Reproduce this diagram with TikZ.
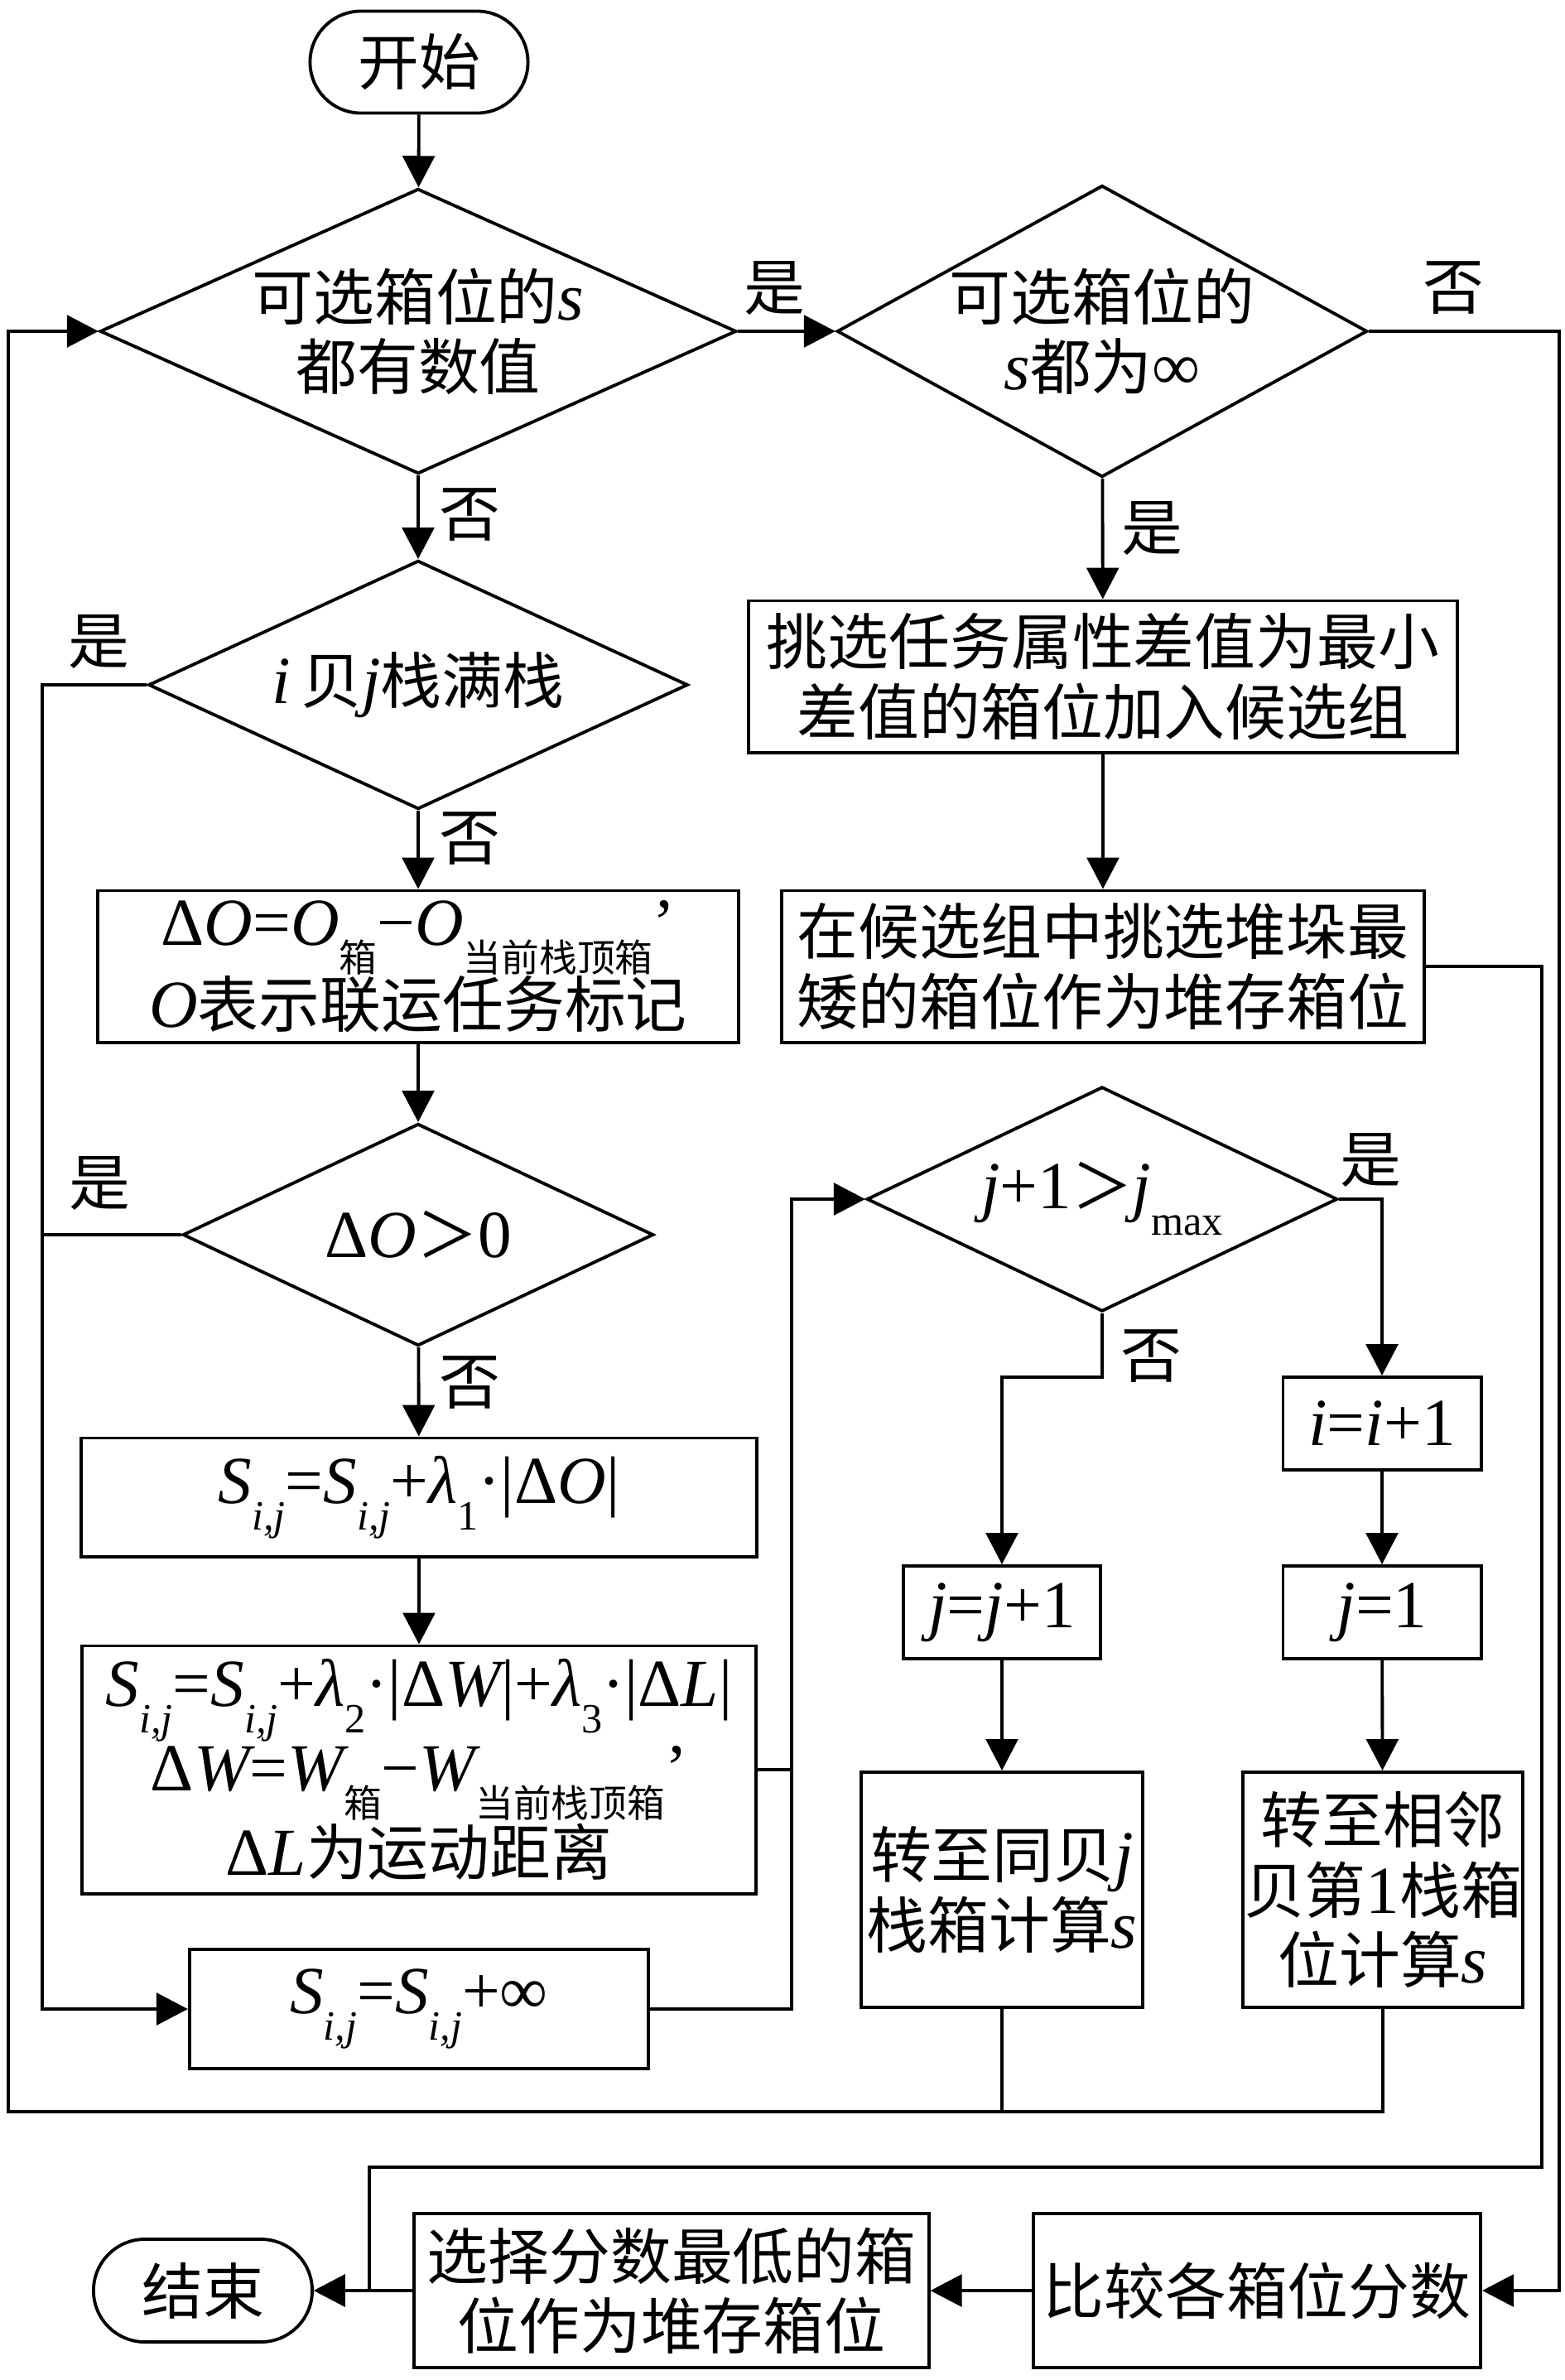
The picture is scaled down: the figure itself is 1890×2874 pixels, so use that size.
\documentclass[tikz,border=0pt]{standalone}
\usepackage{fontspec}
\setmainfont{Noto Sans CJK SC}
\newfontfamily\tnr[Scale=1.1]{Liberation Serif}
\usepackage{tikz}
\usetikzlibrary{shapes.geometric,shapes.misc,arrows.meta}
\newcommand{\itv}[1]{{\tnr\itshape #1}}
\newcommand{\tn}[1]{{\tnr #1}}
\newcommand{\sub}[1]{\raisebox{-0.8ex}{\fontsize{13}{13}\selectfont #1}}

\begin{document}
\begin{tikzpicture}[x=0.01cm,y=-0.01cm,line width=1.1pt,
	>={Triangle[length=10.8pt,width=11pt]},
	every node/.style={font=\fontsize{21}{24}\selectfont,align=center,inner sep=0pt},
	term/.style={draw,rounded rectangle,minimum width=2.63cm,minimum height=1.23cm},
	decision/.style={draw,diamond,aspect=2,inner sep=-12pt},
	proc/.style={draw,rectangle}]
	\useasboundingbox (0,0) rectangle (1890,2874);
	% left column
	\node[term] (start) at (506,75) {开始};
	\node[decision,minimum width=7.68cm,minimum height=3.44cm] (full) at (505,400) {可选箱位的\itv{s}\\都有数值};
	\node[decision,minimum width=6.51cm,minimum height=3cm] (stack) at (505,827) {\itv{i}\,贝\itv{j}栈满栈};
	\node[proc,minimum width=7.73cm,minimum height=1.83cm,font=\fontsize{21}{28}\selectfont] (dO) at (505,1167)
		{\tn{Δ}\itv{O}\tn{=}\itv{O}\sub{箱}\tn{−}\itv{O}\sub{当前栈顶箱}\tn{’}\\\itv{O}表示联运任务标记};
	\node[decision,minimum width=5.68cm,minimum height=2.68cm] (pos) at (505,1491) {\tn{Δ}\itv{O}＞\tn{0}};
	\node[proc,minimum width=8.15cm,minimum height=1.43cm] (s1) at (506,1808)
		{\itv{S}\sub{\itv{i,j}}\tn{=}\itv{S}\sub{\itv{i,j}}\tn{+}\itv{λ}\sub{\tn{1}}\tn{·|Δ}\itv{O}\tn{|}};
	\node[proc,minimum width=8.13cm,minimum height=2.99cm,font=\fontsize{21}{29}\selectfont] (s2) at (506,2137)
		{\itv{S}\sub{\itv{i,j}}\tn{=}\itv{S}\sub{\itv{i,j}}\tn{+}\itv{λ}\sub{\tn{2}}\tn{·|Δ}\itv{W}\tn{|+}\itv{λ}\sub{\tn{3}}\tn{·|Δ}\itv{L}\tn{|}\\
		\tn{Δ}\itv{W}\tn{=}\itv{W}\sub{箱}\tn{−}\itv{W}\sub{当前栈顶箱}\tn{’}\\
		\tn{Δ}\itv{L}为运动距离};
	\node[proc,minimum width=5.54cm,minimum height=1.44cm] (sinf) at (506,2426)
		{\itv{S}\sub{\itv{i,j}}\tn{=}\itv{S}\sub{\itv{i,j}}\tn{+∞}};
	% right column
	\node[decision,minimum width=6.4cm,minimum height=3.52cm] (inf) at (1331,400) {可选箱位的\\\itv{s}都为\tn{∞}};
	\node[proc,minimum width=8.55cm,minimum height=1.83cm] (pick) at (1332,817) {挑选任务属性差值为最小\\差值的箱位加入候选组};
	\node[proc,minimum width=7.75cm,minimum height=1.83cm] (cand) at (1332,1167) {在候选组中挑选堆垛最\\矮的箱位作为堆存箱位};
	\node[decision,minimum width=5.68cm,minimum height=2.71cm] (jmax) at (1331,1448) {\itv{j}\tn{+1}＞\itv{j}\sub{\tn{max}}};
	\node[proc,minimum width=2.39cm,minimum height=1.12cm] (inci) at (1669,1719) {\itv{i}\tn{=}\itv{i}\tn{+1}};
	\node[proc,minimum width=2.39cm,minimum height=1.12cm] (resj) at (1669,1947) {\itv{j}\tn{=1}};
	\node[proc,minimum width=2.38cm,minimum height=1.12cm] (incj) at (1210,1947) {\itv{j}\tn{=}\itv{j}\tn{+1}};
	\node[proc,minimum width=3.4cm,minimum height=2.84cm] (same) at (1210,2282) {转至同贝\itv{j}\\栈箱计算\itv{s}};
	\node[proc,minimum width=3.37cm,minimum height=2.84cm] (next) at (1670,2282) {转至相邻\\贝第\tn{1}栈箱\\位计算\itv{s}};
	% bottom row
	\node[term,minimum width=2.64cm,minimum height=1.24cm] (end) at (245,2766) {结束};
	\node[proc,minimum width=6.21cm,minimum height=1.86cm] (sel) at (811,2766) {选择分数最低的箱\\位作为堆存箱位};
	\node[proc,minimum width=5.4cm,minimum height=1.86cm] (cmp) at (1518,2766) {比较各箱位分数};
	% branch labels
	\node (yes1) at (935,348) {是};
	\node (no1) at (567,622) {否};
	\node (yes2) at (1391,638) {是};
	\node (no2) at (1755,348) {否};
	\node (yes3) at (119,775) {是};
	\node (no3) at (567,1013) {否};
	\node (yes4) at (120,1429) {是};
	\node (no4) at (567,1670) {否};
	\node (yes5) at (1655,1401) {是};
	\node (no5) at (1390,1638) {否};
	% connectors
	\path[->]
	(start) edge (full)
	(full) edge (inf)
	(full) edge (stack)
	(inf) edge (pick)
	(pick) edge (cand)
	(stack) edge (dO)
	(dO) edge (pos)
	(pos) edge (s1)
	(s1) edge (s2)
	(inci) edge (resj)
	(incj) edge (same)
	(resj) edge (next)
	(cmp) edge (sel)
	(sel) edge (end);
	\draw[->] (inf.east) -- (1883,400) |- (cmp.east);
	\draw[->] (cand.east) -| (1862,2617) -- (446,2617) |- (end.east);
	\draw[->] (stack.west) -- (51,827) |- (sinf.west);
	\draw (pos.west) -- (51,1491);
	\draw[->] (sinf.east) -| (956,1448) -- (jmax.west);
	\draw (s2.east) -- (956,2137);
	\draw[->] (jmax.east) -| (inci.north);
	\draw[->] (jmax.south) -- (1331,1663) -| (incj.north);
	\draw (same.south) -- (1210,2550);
	\draw[->] (next.south) |- (10,2550) |- (full.west);
\end{tikzpicture}
\end{document}
